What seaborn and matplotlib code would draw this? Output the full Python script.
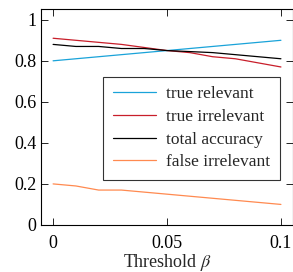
import numpy as np
import pandas as pd
import matplotlib
matplotlib.use("Agg")
import matplotlib.pyplot as plt
import seaborn as sns

# ===================== DATA =====================
threshold = [0.0, 0.01, 0.02, 0.03, 0.04, 0.05, 0.06, 0.07, 0.08, 0.09, 0.1]
true_relevant = [0.80, 0.81, 0.82, 0.83, 0.84, 0.85, 0.86, 0.87, 0.88, 0.89, 0.90]
true_irrelevant = [0.91, 0.90, 0.89, 0.88, 0.865, 0.85, 0.84, 0.82, 0.81, 0.79, 0.77]
total_accuracy = [0.88, 0.87, 0.87, 0.86, 0.86, 0.85, 0.845, 0.84, 0.83, 0.82, 0.81]
false_irrelevant = [0.20, 0.19, 0.17, 0.17, 0.16, 0.15, 0.14, 0.13, 0.12, 0.11, 0.10]

series_names = ["true relevant", "true irrelevant", "total accuracy", "false irrelevant"]
series_colors = ["#1aa3d9", "#c81e2a", "#000000", "#ff8a50"]

df = pd.DataFrame({
    "beta": threshold * 4,
    "value": true_relevant + true_irrelevant + total_accuracy + false_irrelevant,
    "series": np.repeat(series_names, len(threshold)),
})

# ===================== STYLE =====================
sns.set_style("ticks")
plt.rcParams["font.family"] = ["Liberation Serif", "DejaVu Serif"]
plt.rcParams["mathtext.fontset"] = "stix"

fig = plt.figure(figsize=(2.93, 2.72), dpi=100)
ax = fig.add_axes([0.14, 0.173, 0.86, 0.795])

sns.lineplot(data=df, x="beta", y="value", hue="series",
             palette=dict(zip(series_names, series_colors)),
             linewidth=0.9, ax=ax)

ax.set_xlim(-0.0053, 0.1053)
ax.set_ylim(0, 1.054)
ax.set_xticks([0, 0.05, 0.1])
ax.set_xticklabels(["0", "0.05", "0.1"])
ax.set_yticks([0, 0.2, 0.4, 0.6, 0.8, 1.0])
ax.set_yticklabels(["0", "0.2", "0.4", "0.6", "0.8", "1"])
ax.tick_params(direction="in", top=True, right=True, length=5,
               width=0.6, labelsize=13, colors="#000000")
ax.tick_params(axis="x", pad=7)
for s in ax.spines.values():
    s.set_linewidth(0.8)
    s.set_color("black")

ax.set_xlabel(r"Threshold $\beta$", fontsize=13, labelpad=0)
ax.set_ylabel("")

leg = ax.legend(loc="center", bbox_to_anchor=(0.597, 0.447),
                fontsize=12.5, frameon=True, fancybox=False,
                edgecolor="black", handlelength=2.5, handletextpad=0.55,
                borderpad=0.55, labelspacing=0.38)
leg.get_frame().set_linewidth(0.8)

fig.savefig("out.png", dpi=100)
